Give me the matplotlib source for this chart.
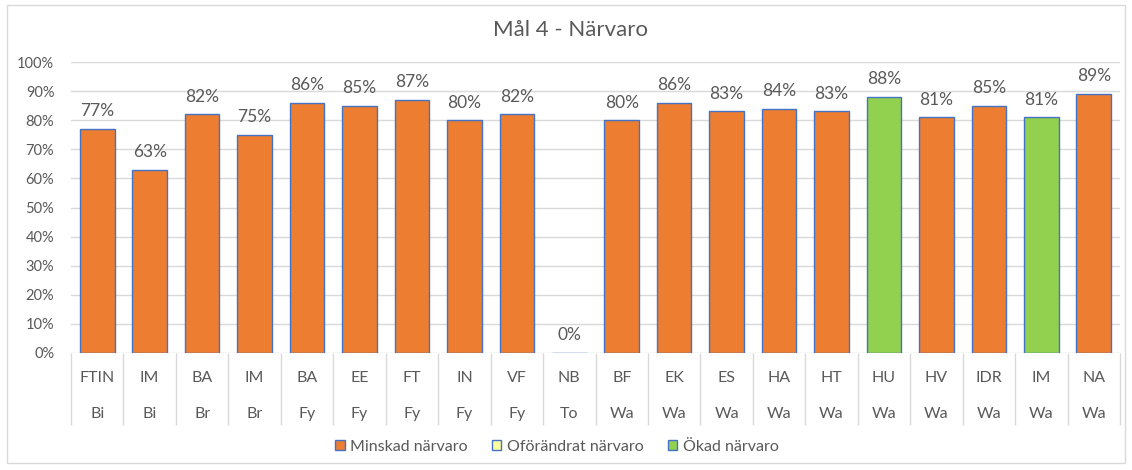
import matplotlib
matplotlib.use('Agg')
import numpy as np
import matplotlib.pyplot as plt
from matplotlib.patches import Patch, Rectangle
import matplotlib.transforms as mtrans

plt.rcParams['font.family'] = ['Lato', 'DejaVu Sans']

# data
program = ['FTIN', 'IM', 'BA', 'IM', 'BA', 'EE', 'FT', 'IN', 'VF', 'NB',
           'BF', 'EK', 'ES', 'HA', 'HT', 'HU', 'HV', 'IDR', 'IM', 'NA']
skola = ['Bi', 'Bi', 'Br', 'Br', 'Fy', 'Fy', 'Fy', 'Fy', 'Fy', 'To',
         'Wa', 'Wa', 'Wa', 'Wa', 'Wa', 'Wa', 'Wa', 'Wa', 'Wa', 'Wa']
narvaro = [77, 63, 82, 75, 86, 85, 87, 80, 82, 0,
           80, 86, 83, 84, 83, 88, 81, 85, 81, 89]
status = ['M', 'M', 'M', 'M', 'M', 'M', 'M', 'M', 'M', 'M',
          'M', 'M', 'M', 'M', 'M', 'O', 'M', 'M', 'O', 'M']

ORANGE = '#ED7D31'
YELLOW = '#FFFF9F'
GREEN = '#92D050'
EDGE = '#4472C4'
TXT = '#595959'
GRID = '#D9D9D9'
farg = {'M': ORANGE, 'O': GREEN}

fig = plt.figure(figsize=(11.32, 4.70), dpi=100)
# ram runt diagrammet
fig.patches.append(Rectangle((7 / 1132, 7 / 470), 1118 / 1132, 458 / 470,
                             transform=fig.transFigure, fill=False,
                             edgecolor=GRID, lw=1))
ax = fig.add_axes([71 / 1132, 117 / 470, 1049 / 1132, 291 / 470])

x = np.arange(len(narvaro))
ax.bar(x, narvaro, width=0.66, color=[farg[s] for s in status],
       edgecolor=EDGE, linewidth=1, zorder=3)
for xi, v in zip(x, narvaro):
    ax.text(xi, v + 3.3, f'{v}%', ha='center', va='bottom', fontsize=12.5, color=TXT)

ax.set_xlim(-0.5, len(narvaro) - 0.5)
ax.set_ylim(0, 100)
ax.set_yticks(np.arange(0, 101, 10))
ax.set_yticklabels([f'{t}%' for t in range(0, 101, 10)], fontsize=10.5, color=TXT)
ax.yaxis.grid(True, color=GRID, lw=1, zorder=0)
ax.tick_params(axis='y', length=0, pad=12)
ax.set_xticks([])
for s in ax.spines.values():
    s.set_visible(False)

# kategoriaxel med två nivåer
tr = mtrans.blended_transform_factory(ax.transData, ax.transAxes)
for xi, p, sk in zip(x, program, skola):
    ax.text(xi, -0.086, p, transform=tr, ha='center', va='center', fontsize=11.5, color=TXT)
    ax.text(xi, -0.21, sk, transform=tr, ha='center', va='center', fontsize=11.5, color=TXT)
ax.vlines(np.arange(len(narvaro) + 1) - 0.5, -0.247, 0, transform=tr,
          colors=GRID, lw=1, clip_on=False)

fig.text(0.504, 0.936, 'Mål 4 - Närvaro', ha='center', va='center', fontsize=16, color=TXT)

handles = [Patch(facecolor=ORANGE, edgecolor=EDGE, label='Minskad närvaro'),
           Patch(facecolor=YELLOW, edgecolor=EDGE, label='Oförändrat närvaro'),
           Patch(facecolor=GREEN, edgecolor=EDGE, label='Ökad närvaro')]
fig.legend(handles=handles, loc='center', bbox_to_anchor=(0.492, 0.049), ncol=3,
           frameon=False, fontsize=11.5, handlelength=0.6, handleheight=0.6,
           handletextpad=0.35, columnspacing=1.5, labelcolor=TXT)

fig.savefig('out.png', dpi=100)
